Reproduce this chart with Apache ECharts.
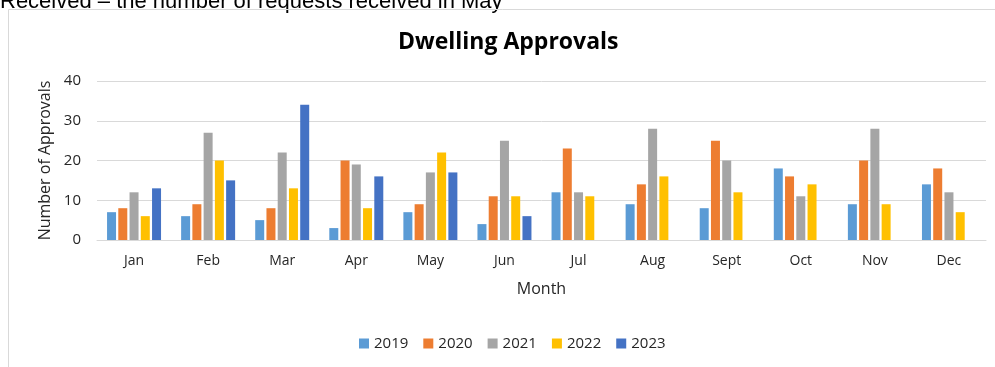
<!DOCTYPE html>
<html>
<head>
<meta charset="utf-8">
<script src="https://cdn.jsdelivr.net/npm/echarts@6/dist/echarts.min.js"></script>
<style>
  html, body { margin: 0; padding: 0; background: #fff; }
  #chart { width: 995px; height: 367px; }
</style>
</head>
<body>
<div id="chart"></div>
<script>
// Monthly dwelling approvals by year
const months = ['Jan', 'Feb', 'Mar', 'Apr', 'May', 'Jun', 'Jul', 'Aug', 'Sept', 'Oct', 'Nov', 'Dec'];
const years = ['2019', '2020', '2021', '2022', '2023'];
const approvals2019 = [7, 6, 5, 3, 7, 4, 12, 9, 8, 18, 9, 14];
const approvals2020 = [8, 9, 8, 20, 9, 11, 23, 14, 25, 16, 20, 18];
const approvals2021 = [12, 27, 22, 19, 17, 25, 12, 28, 20, 11, 28, 12];
const approvals2022 = [6, 20, 13, 8, 22, 11, 11, 16, 12, 14, 9, 7];
const approvals2023 = [13, 15, 34, 16, 17, 6, null, null, null, null, null, null];
const yTicks = [0, 10, 20, 30, 40];

const seriesValues = [approvals2019, approvals2020, approvals2021, approvals2022, approvals2023];
const seriesColors = ['#5B9BD5', '#ED7D31', '#A5A5A5', '#FFC000', '#4472C4'];

const font = '"Open Sans", Lato, sans-serif';
const textColor = '#262626';
const chart = echarts.init(document.getElementById('chart'), null, { renderer: 'canvas' });

chart.setOption({
  animation: false,
  backgroundColor: '#ffffff',
  title: {
    text: 'Dwelling Approvals',
    left: 398,
    top: 31,
    padding: 0,
    textStyle: { fontFamily: font, fontWeight: 'bold', fontSize: 23, color: '#000000' }
  },
  graphic: [
    {
      type: 'text',
      left: 0,
      top: -9,
      style: {
        text: 'Received \u2013 the number of requests received in May',
        font: '22px "Liberation Sans", Arial, sans-serif',
        fill: '#000000'
      }
    },
    {
      type: 'rect',
      shape: { x: 8.5, y: 9.5, width: 1000, height: 400 },
      style: { fill: 'none', stroke: '#d9d9d9', lineWidth: 1 },
      silent: true
    }
  ],
  legend: {
    data: years,
    left: 359,
    top: 336,
    padding: 0,
    itemWidth: 10,
    itemHeight: 10,
    itemGap: 15,
    icon: 'rect',
    textStyle: { fontFamily: font, fontSize: 15, color: textColor }
  },
  grid: { left: 97, right: 9, top: 81, bottom: 127, containLabel: false },
  xAxis: {
    type: 'category',
    data: months,
    name: 'Month',
    nameLocation: 'middle',
    nameGap: 41,
    nameTextStyle: { fontFamily: font, fontSize: 16, color: textColor },
    axisLine: { lineStyle: { color: '#d9d9d9', width: 1 } },
    axisTick: { show: false },
    axisLabel: { fontFamily: font, fontSize: 14, color: textColor, margin: 14 }
  },
  yAxis: {
    type: 'value',
    min: yTicks[0],
    max: yTicks[yTicks.length - 1],
    interval: 10,
    name: 'Number of Approvals',
    nameLocation: 'middle',
    nameRotate: 90,
    nameGap: 44,
    nameTextStyle: { fontFamily: font, fontSize: 16, color: textColor },
    axisLine: { show: false },
    axisTick: { show: false },
    axisLabel: { fontFamily: font, fontSize: 15, color: textColor, margin: 16 },
    splitLine: { lineStyle: { color: '#d9d9d9', width: 1 } }
  },
  series: years.map((y, i) => ({
    name: y,
    type: 'bar',
    data: seriesValues[i],
    barWidth: 9,
    barGap: '25%',
    itemStyle: { color: seriesColors[i] }
  }))
});
</script>
</body>
</html>
